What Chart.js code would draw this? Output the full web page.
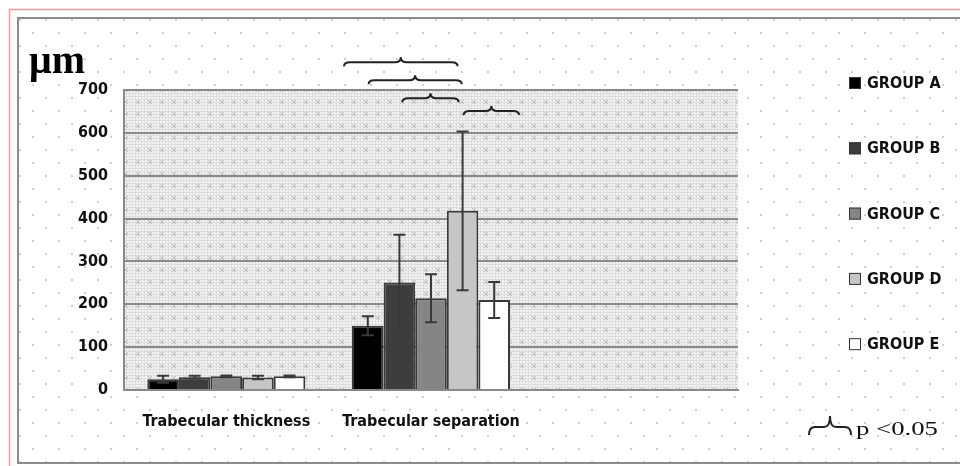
<!DOCTYPE html>
<html lang="en">
<head>
<meta charset="UTF-8" />
<title>Trabecular bone chart</title>
<script src="https://cdn.jsdelivr.net/npm/chart.js"></script>
<style>
  html, body { margin: 0; padding: 0; background: #fff; }
  #chart { display: block; }
</style>
</head>
<body>
<canvas id="chart" width="960" height="466"></canvas>
<script>
// data
const categories = ["Trabecular thickness", "Trabecular separation", ""];
const groupNames = ["GROUP A", "GROUP B", "GROUP C", "GROUP D", "GROUP E"];
const groupA = [25, 150, null];
const groupB = [30, 251, null];
const groupC = [32, 214, null];
const groupD = [29, 418, null];
const groupE = [32, 210, null];
const errA = [8, 22, null];
const errB = [3, 111, null];
const errC = [2, 56, null];
const errD = [4, 185, null];
const errE = [2, 42, null];
const yTicks = [0, 100, 200, 300, 400, 500, 600, 700];
// significance braces: start/end in category units, level in µm
const braceFrom = [0.575, 0.695, 0.86, 1.16];
const braceTo = [1.13, 1.15, 1.135, 1.43];
const braceLevel = [765, 723, 681, 651];

const fills = ["#000000", "#3d3d3d", "#858585", "#c6c6c6", "#ffffff"];
const FONT = "'DejaVu Sans Condensed', 'Liberation Sans Narrow', 'DejaVu Sans', sans-serif";

function makeDots() {
    const c = document.createElement("canvas");
    c.width = 26; c.height = 26;
    const g = c.getContext("2d");
    g.fillStyle = "#ffffff";
    g.fillRect(0, 0, 26, 26);
    g.fillStyle = "#cfcfcf";
    g.fillRect(6, 6, 2, 2);
    g.fillRect(19, 19, 2, 2);
    return c;
}
function makeHatch() {
    const c = document.createElement("canvas");
    c.width = 12; c.height = 12;
    const g = c.getContext("2d");
    g.fillStyle = "#f3f3f3";
    g.fillRect(0, 0, 12, 12);
    g.fillStyle = "#dddddd";
    for (let i = 0; i < 12; i += 3) {
        g.fillRect(i, 0, 1, 12);
        g.fillRect(0, i, 12, 1);
    }
    g.strokeStyle = "#bdbdbd";
    g.lineWidth = 1;
    g.beginPath();
    g.moveTo(4, 4); g.lineTo(8, 8);
    g.moveTo(8, 4); g.lineTo(4, 8);
    g.stroke();
    return c;
}

function brace(ctx, x1, x2, y, down, up) {
    const xm = (x1 + x2) / 2;
    const r = Math.min(6, (x2 - x1) / 6);
    ctx.beginPath();
    ctx.moveTo(x1, y + down);
    ctx.quadraticCurveTo(x1, y, x1 + r, y);
    ctx.lineTo(xm - r, y);
    ctx.quadraticCurveTo(xm, y, xm, y - up);
    ctx.quadraticCurveTo(xm, y, xm + r, y);
    ctx.lineTo(x2 - r, y);
    ctx.quadraticCurveTo(x2, y, x2, y + down);
    ctx.stroke();
}

const backdrop = {
    id: "backdrop",
    beforeDraw(chart) {
        const ctx = chart.ctx;
        const a = chart.chartArea;
        ctx.save();
        ctx.fillStyle = "#ffffff";
        ctx.fillRect(0, 0, chart.width, chart.height);
        ctx.fillStyle = ctx.createPattern(makeDots(), "repeat");
        ctx.fillRect(18, 18, chart.width, 445);
        ctx.strokeStyle = "#f19a9a";
        ctx.lineWidth = 1.5;
        ctx.strokeRect(9.5, 9.5, chart.width + 10, chart.height + 10);
        ctx.strokeStyle = "#8c8c8c";
        ctx.lineWidth = 2;
        ctx.strokeRect(18, 18, chart.width + 10, 445);
        ctx.fillStyle = ctx.createPattern(makeHatch(), "repeat");
        ctx.fillRect(a.left, a.top, a.right - a.left, a.bottom - a.top);
        ctx.restore();
    }
};

const extras = {
    id: "extras",
    afterDatasetsDraw(chart) {
        const ctx = chart.ctx;
        const y = chart.scales.y;
        const x = chart.scales.x;
        ctx.save();
        // error bars
        ctx.strokeStyle = "#3a3a3a";
        ctx.lineWidth = 2;
        chart.data.datasets.forEach((ds, i) => {
            const meta = chart.getDatasetMeta(i);
            meta.data.forEach((bar, j) => {
                const v = ds.data[j], e = ds.errors[j];
                if (v == null || e == null) return;
                const top = y.getPixelForValue(v + e);
                const bot = y.getPixelForValue(v - e);
                ctx.beginPath();
                ctx.moveTo(bar.x, top); ctx.lineTo(bar.x, bot);
                ctx.moveTo(bar.x - 6, top); ctx.lineTo(bar.x + 6, top);
                ctx.moveTo(bar.x - 6, bot); ctx.lineTo(bar.x + 6, bot);
                ctx.stroke();
            });
        });
        // significance braces
        ctx.strokeStyle = "#222";
        ctx.lineWidth = 2;
        braceLevel.forEach((lv, k) => {
            brace(ctx, x.getPixelForValue(braceFrom[k]), x.getPixelForValue(braceTo[k]),
                y.getPixelForValue(lv), 4, 5);
        });
        ctx.restore();
    },
    afterDraw(chart) {
        const ctx = chart.ctx;
        const a = chart.chartArea;
        ctx.save();
        // unit label
        ctx.fillStyle = "#000";
        ctx.font = "bold 40px 'Liberation Serif', 'DejaVu Serif', serif";
        ctx.textBaseline = "alphabetic";
        ctx.textAlign = "left";
        ctx.fillText("\u03BCm", 29, a.top - 17);
        // legend
        ctx.font = "bold 16px " + FONT;
        ctx.textBaseline = "middle";
        chart.data.datasets.forEach((ds, i) => {
            const lx = a.right + 111;
            const ly = a.top - 7 + i * 65.3;
            ctx.fillStyle = ds.backgroundColor;
            ctx.fillRect(lx, ly - 6, 12, 12);
            ctx.strokeStyle = "#333";
            ctx.lineWidth = 1;
            ctx.strokeRect(lx + 0.5, ly - 5.5, 11, 11);
            ctx.fillStyle = "#111";
            ctx.fillText(ds.label, lx + 18, ly + 1);
        });
        // p-value note
        ctx.strokeStyle = "#222";
        ctx.lineWidth = 2;
        brace(ctx, 809, 851, 427, 8, 11);
        ctx.fillStyle = "#111";
        ctx.font = "19px 'Liberation Serif', 'DejaVu Serif', serif";
        ctx.textBaseline = "alphabetic";
        const note = "p <0.05";
        const w = ctx.measureText(note).width;
        ctx.translate(856, 435);
        ctx.scale(82 / w, 1);
        ctx.fillText(note, 0, 0);
        ctx.restore();
    }
};

const series = [groupA, groupB, groupC, groupD, groupE];
const errs = [errA, errB, errC, errD, errE];

new Chart(document.getElementById("chart"), {
    type: "bar",
    data: {
        labels: categories,
        datasets: series.map((vals, i) => ({
            label: groupNames[i],
            data: vals,
            errors: errs[i],
            backgroundColor: fills[i],
            borderColor: "#3a3a3a",
            borderWidth: 2,
            barPercentage: 1,
            categoryPercentage: 0.772
        }))
    },
    options: {
        responsive: false,
        animation: false,
        devicePixelRatio: 1,
        layout: { padding: { left: 20, right: 222, top: 90, bottom: 20 } },
        plugins: { legend: { display: false }, tooltip: { enabled: false } },
        scales: {
            x: {
                grid: { display: false, drawTicks: false },
                border: { display: true, color: "#8a8a8a", width: 2 },
                ticks: {
                    color: "#111",
                    padding: 22,
                    font: { family: FONT, size: 16, weight: "bold" }
                },
                afterFit(s) { s.height = 56; }
            },
            y: {
                min: 0,
                max: 700,
                afterBuildTicks(s) { s.ticks = yTicks.map(v => ({ value: v })); },
                grid: { color: "#8a8a8a", lineWidth: 2, drawTicks: false },
                border: { display: true, color: "#8a8a8a", width: 2 },
                ticks: {
                    color: "#111",
                    padding: 16,
                    font: { family: FONT, size: 16, weight: "bold" }
                },
                afterFit(s) { s.width = 104; }
            }
        }
    },
    plugins: [backdrop, extras]
});
</script>
</body>
</html>
